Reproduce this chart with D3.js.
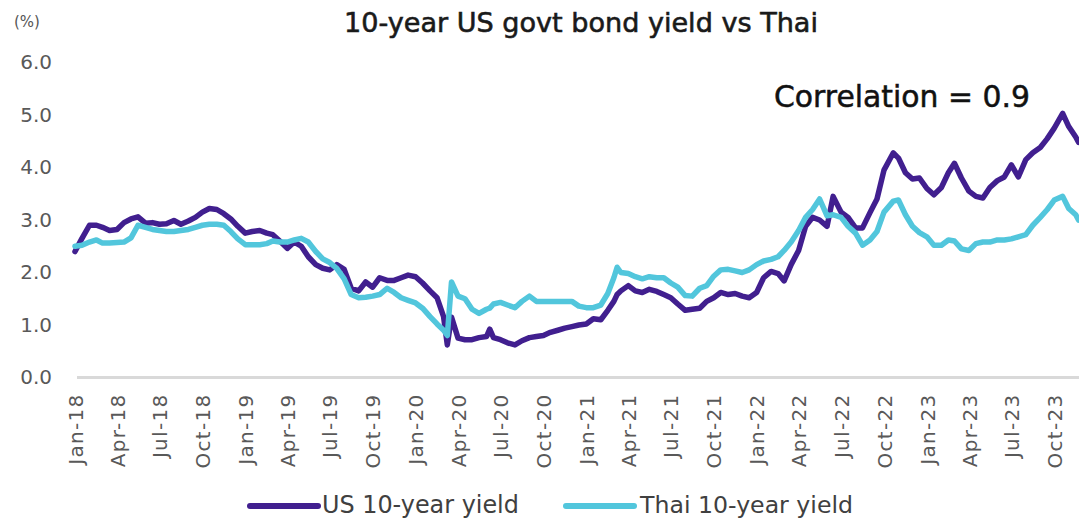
<!DOCTYPE html>
<html>
<head>
<meta charset="utf-8">
<script src="https://cdn.jsdelivr.net/npm/d3@7"></script>
<style>
  html, body { margin: 0; padding: 0; background: #ffffff; }
  svg { display: block; font-family: "DejaVu Sans", "Noto Sans", sans-serif; }
</style>
</head>
<body>
<svg id="chart" width="1079" height="520"></svg>
<script>
// ---- chart text ----
const titleText = "10-year US govt bond yield vs Thai";
const unitLabel = "(%)";
const noteText = "Correlation = 0.9";
const seriesNames = ["US 10-year yield", "Thai 10-year yield"];

// ---- axis ticks ----
const yTicks = [0, 1, 2, 3, 4, 5, 6];
const xTickDates = [
  "2018-01-01","2018-04-01","2018-07-01","2018-10-01",
  "2019-01-01","2019-04-01","2019-07-01","2019-10-01",
  "2020-01-01","2020-04-01","2020-07-01","2020-10-01",
  "2021-01-01","2021-04-01","2021-07-01","2021-10-01",
  "2022-01-01","2022-04-01","2022-07-01","2022-10-01",
  "2023-01-01","2023-04-01","2023-07-01","2023-10-01"
];

// ---- observation dates (semi-monthly, plus a few turning points) ----
const dates = [
  // 2018
  "2018-01-01","2018-01-16","2018-02-01","2018-02-16","2018-03-01","2018-03-16",
  "2018-04-01","2018-04-16","2018-05-01","2018-05-16","2018-06-01","2018-06-16",
  "2018-07-01","2018-07-16","2018-08-01","2018-08-16","2018-09-01","2018-09-16",
  "2018-10-01","2018-10-16","2018-11-01","2018-11-16","2018-12-01","2018-12-16",
  // 2019
  "2019-01-01","2019-01-16","2019-02-01","2019-02-16","2019-03-01","2019-03-16",
  "2019-04-01","2019-04-16","2019-05-01","2019-05-16","2019-06-01","2019-06-16",
  "2019-07-01","2019-07-16","2019-08-01","2019-08-16","2019-09-01","2019-09-16",
  "2019-10-01","2019-10-16","2019-11-01","2019-11-16","2019-12-01","2019-12-16",
  // 2020
  "2020-01-01","2020-01-16","2020-02-01","2020-02-16","2020-03-01","2020-03-09",
  "2020-03-18","2020-04-01","2020-04-16","2020-05-01","2020-05-16","2020-06-01",
  "2020-06-08","2020-06-16","2020-07-01","2020-07-16","2020-08-01","2020-08-16",
  "2020-09-01","2020-09-16","2020-10-01","2020-10-16","2020-11-01","2020-11-16",
  "2020-12-01","2020-12-16",
  // 2021
  "2021-01-01","2021-01-16","2021-02-01","2021-02-16","2021-03-01","2021-03-08",
  "2021-03-16","2021-04-01","2021-04-16","2021-05-01","2021-05-16","2021-06-01",
  "2021-06-16","2021-07-01","2021-07-16","2021-08-01","2021-08-16","2021-09-01",
  "2021-09-16","2021-10-01","2021-10-16","2021-11-01","2021-11-16","2021-12-01",
  "2021-12-16",
  // 2022
  "2022-01-01","2022-01-16","2022-02-01","2022-02-16","2022-03-01","2022-03-16",
  "2022-04-01","2022-04-16","2022-05-01","2022-05-16","2022-06-01","2022-06-14",
  "2022-07-01","2022-07-16","2022-08-01","2022-08-16","2022-09-01","2022-09-16",
  "2022-10-01","2022-10-21","2022-11-01","2022-11-16","2022-12-01","2022-12-16",
  // 2023
  "2023-01-01","2023-01-16","2023-02-01","2023-02-16","2023-03-01","2023-03-16",
  "2023-04-01","2023-04-16","2023-05-01","2023-05-16","2023-06-01","2023-06-16",
  "2023-07-01","2023-07-16","2023-08-01","2023-08-16","2023-09-01","2023-09-16",
  "2023-10-01","2023-10-19","2023-11-01","2023-11-16","2023-11-22"
];

// ---- US 10-year treasury yield (%) ----
const usYield = [
  // 2018
  2.40, 2.65, 2.90, 2.90, 2.86, 2.80, 2.82, 2.95, 3.02, 3.06, 2.94, 2.95,
  2.92, 2.93, 2.99, 2.92, 2.98, 3.05, 3.15, 3.22, 3.20, 3.12, 3.02, 2.88,
  // 2019
  2.75, 2.78, 2.80, 2.75, 2.72, 2.60, 2.46, 2.58, 2.50, 2.30, 2.15, 2.08,
  2.05, 2.15, 2.06, 1.70, 1.65, 1.82, 1.72, 1.90, 1.85, 1.85, 1.90, 1.95,
  // 2020
  1.92, 1.80, 1.65, 1.52, 1.16, 0.62, 1.15, 0.75, 0.72, 0.72, 0.76, 0.78,
  0.92, 0.76, 0.72, 0.66, 0.62, 0.70, 0.76, 0.78, 0.80, 0.86, 0.90, 0.94,
  0.97, 1.00,
  // 2021
  1.02, 1.12, 1.10, 1.28, 1.45, 1.58, 1.65, 1.75, 1.65, 1.62, 1.68, 1.64,
  1.58, 1.52, 1.40, 1.28, 1.30, 1.32, 1.45, 1.52, 1.62, 1.58, 1.60, 1.55,
  1.52,
  // 2022
  1.62, 1.90, 2.02, 1.98, 1.84, 2.15, 2.42, 2.88, 3.05, 3.00, 2.88, 3.45,
  3.15, 3.05, 2.85, 2.85, 3.14, 3.40, 3.95, 4.28, 4.18, 3.90, 3.78, 3.80,
  // 2023
  3.60, 3.48, 3.62, 3.90, 4.08, 3.80, 3.55, 3.45, 3.42, 3.62, 3.75, 3.82,
  4.05, 3.82, 4.15, 4.28, 4.38, 4.55, 4.75, 5.03, 4.78, 4.58, 4.48
];

// ---- Thai 10-year government bond yield (%) ----
const thaiYield = [
  // 2018
  2.50, 2.52, 2.58, 2.62, 2.56, 2.56, 2.57, 2.58, 2.66, 2.90, 2.86, 2.82,
  2.80, 2.78, 2.78, 2.80, 2.82, 2.86, 2.90, 2.92, 2.92, 2.90, 2.78, 2.64,
  // 2019
  2.53, 2.53, 2.53, 2.55, 2.60, 2.58, 2.58, 2.62, 2.65, 2.58, 2.40, 2.26,
  2.19, 2.08, 1.88, 1.58, 1.52, 1.53, 1.55, 1.58, 1.70, 1.62, 1.52, 1.47,
  // 2020
  1.42, 1.32, 1.16, 1.02, 0.90, 0.80, 1.82, 1.55, 1.50, 1.30, 1.22, 1.30,
  1.32, 1.40, 1.43, 1.38, 1.33, 1.45, 1.55, 1.45, 1.45, 1.45, 1.45, 1.45,
  1.45, 1.36,
  // 2021
  1.33, 1.33, 1.38, 1.60, 1.90, 2.10, 2.00, 1.98, 1.92, 1.88, 1.92, 1.90,
  1.90, 1.80, 1.72, 1.56, 1.55, 1.70, 1.75, 1.93, 2.05, 2.06, 2.03, 2.00,
  2.05,
  // 2022
  2.15, 2.22, 2.25, 2.30, 2.42, 2.58, 2.80, 3.05, 3.20, 3.40, 3.08, 3.10,
  3.05, 2.88, 2.75, 2.52, 2.62, 2.78, 3.15, 3.36, 3.38, 3.10, 2.88, 2.76,
  // 2023
  2.68, 2.52, 2.52, 2.62, 2.60, 2.45, 2.42, 2.55, 2.58, 2.58, 2.62, 2.62,
  2.64, 2.68, 2.72, 2.90, 3.05, 3.20, 3.38, 3.45, 3.22, 3.10, 3.00
];

const seriesColors = ["#411f8f", "#52c6dc"];

// ---- layout ----
const svg = d3.select("#chart");
const W = 1079, H = 520;
const parse = d3.utcParse("%Y-%m-%d");
const fmt = d3.utcFormat("%b-%y");

const x = d3.scaleUtc()
  .domain([parse("2018-01-01"), parse("2023-11-23")])
  .range([75, 1079]);
const y = d3.scaleLinear().domain([0, 6]).range([377.5, 62.5]);

// fit a text element to a target width by scaling its font size
function fitWidth(sel, target) {
  const len = sel.node().getComputedTextLength();
  const fs = parseFloat(sel.attr("font-size"));
  sel.attr("font-size", (fs * target / len).toFixed(2));
}

// baseline
svg.append("line")
  .attr("x1", 77).attr("x2", W)
  .attr("y1", y(0)).attr("y2", y(0))
  .attr("stroke", "#d9d9d9").attr("stroke-width", 3);

// y axis
const yAxis = svg.append("g")
  .attr("transform", "translate(60,0)")
  .call(d3.axisLeft(y).tickValues(yTicks).tickFormat(d3.format(".1f")).tickSize(0).tickPadding(8));
yAxis.select(".domain").remove();
yAxis.selectAll("text")
  .attr("font-family", "DejaVu Sans")
  .attr("font-size", 20)
  .attr("fill", "#595959");

// x axis with vertical labels
const xAxis = svg.append("g")
  .attr("transform", `translate(0,${y(0)})`)
  .call(d3.axisBottom(x).tickValues(xTickDates.map(parse)).tickFormat(fmt).tickSize(0));
xAxis.select(".domain").remove();
xAxis.selectAll("text")
  .attr("font-family", "DejaVu Sans")
  .attr("font-size", 20)
  .attr("letter-spacing", 1.3)
  .attr("fill", "#595959")
  .attr("transform", "rotate(-90)")
  .attr("x", -16)
  .attr("y", 0)
  .attr("dy", "0.36em")
  .style("text-anchor", "end");

// unit label
svg.append("text")
  .attr("x", 14).attr("y", 27)
  .attr("font-size", 15).attr("fill", "#555555")
  .text(unitLabel);

// title
const title = svg.append("text")
  .attr("x", 344).attr("y", 32)
  .attr("font-size", 22).attr("fill", "#1a1a1a")
  .attr("stroke", "#1a1a1a").attr("stroke-width", 0.6)
  .text(titleText);
fitWidth(title, 474);

// correlation note
const note = svg.append("text")
  .attr("x", 774).attr("y", 107)
  .attr("font-size", 26).attr("fill", "#111111")
  .attr("stroke", "#111111").attr("stroke-width", 0.5)
  .text(noteText);
fitWidth(note, 256);

// series lines
const series = [
  { name: seriesNames[0], values: usYield, color: seriesColors[0] },
  { name: seriesNames[1], values: thaiYield, color: seriesColors[1] }
];
const line = d3.line()
  .x((d, i) => x(parse(dates[i])))
  .y(d => y(d));

svg.append("g")
  .selectAll("path")
  .data(series)
  .join("path")
  .attr("d", s => line(s.values))
  .attr("fill", "none")
  .attr("stroke", s => s.color)
  .attr("stroke-width", 5.5)
  .attr("stroke-linejoin", "round")
  .attr("stroke-linecap", "round");

// legend
const legendItems = [
  { x0: 250, x1: 318, tx: 322, tw: 197 },
  { x0: 566, x1: 634, tx: 640, tw: 213 }
];
const legend = svg.append("g");
series.forEach((s, i) => {
  const L = legendItems[i];
  legend.append("line")
    .attr("x1", L.x0).attr("x2", L.x1)
    .attr("y1", 506).attr("y2", 506)
    .attr("stroke", s.color).attr("stroke-width", 6)
    .attr("stroke-linecap", "round");
  const t = legend.append("text")
    .attr("x", L.tx).attr("y", 504)
    .attr("dy", "0.36em")
    .attr("font-size", 20).attr("fill", "#404040")
    .text(s.name);
  fitWidth(t, L.tw);
});
</script>
</body>
</html>
